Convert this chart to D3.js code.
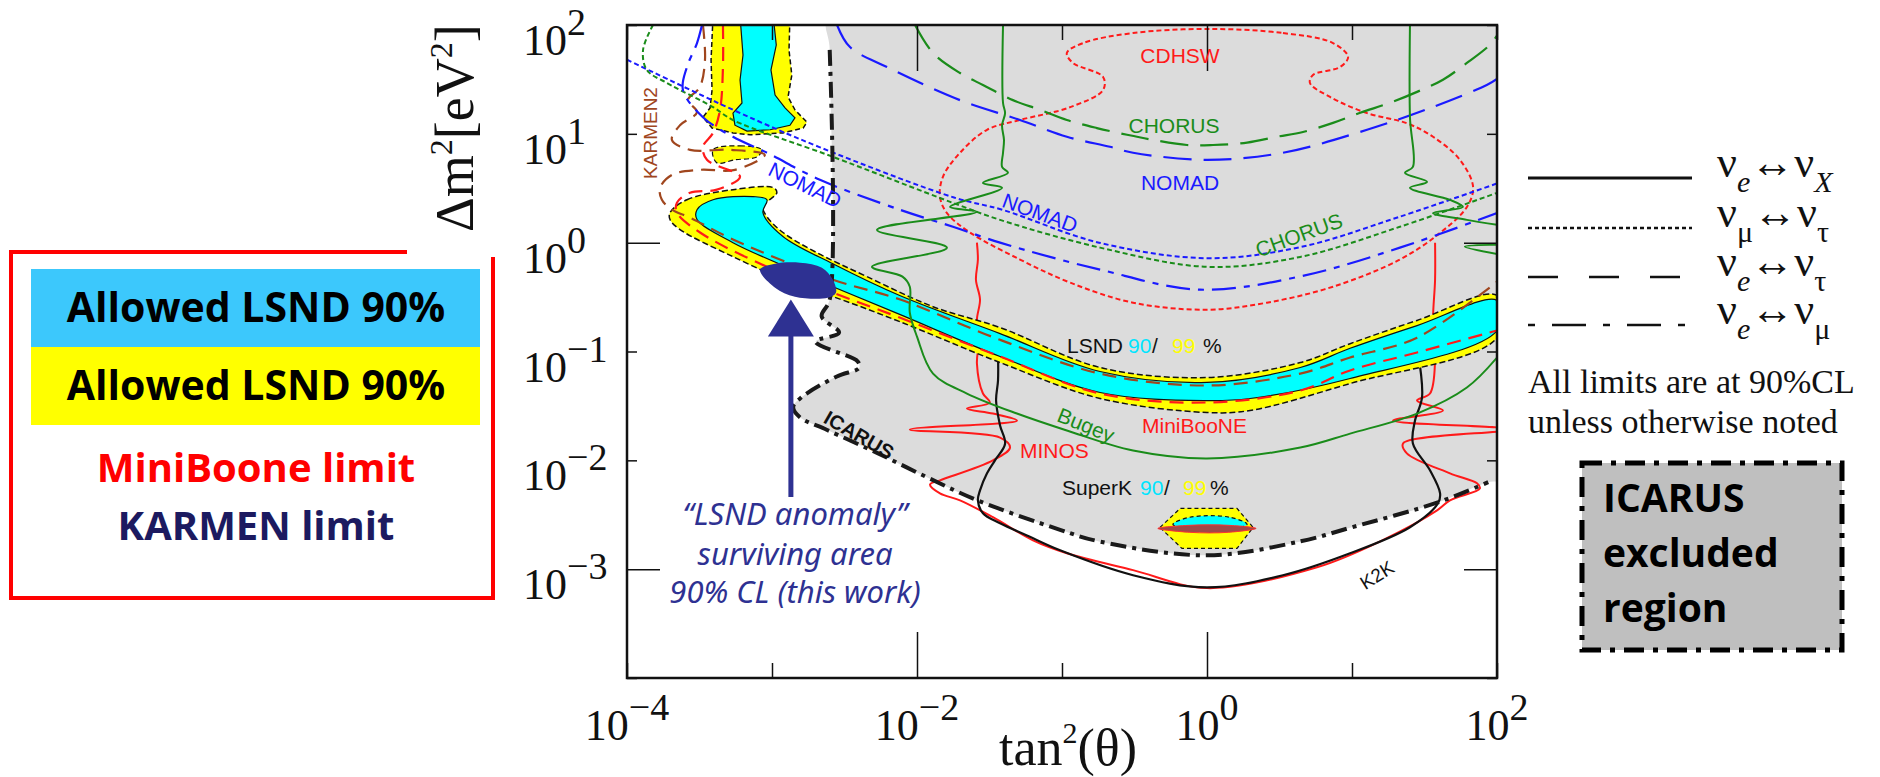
<!DOCTYPE html>
<html>
<head>
<meta charset="utf-8">
<script src="https://cdn.jsdelivr.net/npm/d3@7"></script>
<style>
body { margin: 0; background: #fff; }
</style>
</head>
<body>
<div id="chart-area"></div>
<script>
/*
*    exclusion plot : tan^2(theta) vs delta m^2
*/

// axis decades
var decades = [1e-4, 1e-3, 1e-2, 1e-1, 1, 10, 100];
var xLabelTicks = [1e-4, 1e-2, 1, 100];
var xLabelExps = ["\u22124", "\u22122", "0", "2"];
var yLabelTicks = [100, 10, 1, 0.1, 0.01, 0.001];
var yLabelExps = ["2", "1", "0", "\u22121", "\u22122", "\u22123"];

// ICARUS excluded region boundary [tan2, dm2]
var icarusBoundary = [
    [2.5e-3, 59], [2.5e-3, 0.30], [2.2e-3, 0.21], [2.9e-3, 0.149], [2.0e-3, 0.123],
    [3.9e-3, 0.081], [4.0e-3, 0.071], [2.8e-3, 0.059], [1.6e-3, 0.038], [1.4e-3, 0.031],
    [1.55e-3, 0.025], [2.4e-3, 0.019], [5.3e-3, 0.0117], [1.17e-2, 0.0070], [2.6e-2, 0.0043],
    [9.7e-2, 0.0023], [0.18, 0.0018], [1, 0.00134], [4.4, 0.0018], [9.7, 0.0024],
    [39, 0.0041], [87, 0.0063]
];

// LSND allowed band
var lsnd99Upper = [[1.98e-4, 1.89], [2.59e-4, 2.48], [5.38e-4, 3.07], [1.02e-3, 3.2], [1.08e-3, 2.88],
    [8.66e-4, 2.14], [9.23e-4, 1.73], [1.19e-3, 1.24], [2.04e-3, 0.809], [4.52e-3, 0.487],
    [1.29e-2, 0.258], [3.74e-2, 0.166], [0.183, 0.0713], [1, 0.0577], [4.4, 0.0792],
    [9.7, 0.118], [28.1, 0.193], [100, 0.327]];
var lsnd99Lower = [[1.98e-4, 1.63], [2.32e-4, 1.32], [5.38e-4, 0.744], [1.56e-3, 0.394], [2.63e-3, 0.319],
    [7.61e-3, 0.188], [3.74e-2, 0.0792], [0.183, 0.037], [1, 0.0275], [1.98, 0.0287],
    [9.7, 0.0508], [100, 0.134]];
var lsnd90Upper = [[3.04e-4, 2.01], [3.92e-4, 2.48], [7.4e-4, 2.65], [9.23e-4, 2.48], [8.66e-4, 1.89],
    [1.19e-3, 1.14], [2.63e-3, 0.64], [7.67e-3, 0.325], [3.74e-2, 0.146], [0.183, 0.0655],
    [1, 0.052], [4.4, 0.0713], [9.7, 0.107], [28.1, 0.173], [100, 0.294]];
var lsnd90Lower = [[3.04e-4, 1.63], [5.38e-4, 1.0], [1.56e-3, 0.53], [2.63e-3, 0.394], [7.67e-3, 0.218],
    [3.74e-2, 0.09], [0.183, 0.042], [1, 0.0354], [1.98, 0.037], [9.7, 0.0565], [100, 0.156]];

// LSND high dm2 islands
var lsndIsland99 = [[3.92e-4, 120], [1.33e-3, 120], [1.31e-3, 58.9], [1.37e-3, 34.7], [1.29e-3, 21.8],
    [1.44e-3, 16.6], [1.74e-3, 12.8], [1.64e-3, 11.3], [1.19e-3, 10.2], [7.06e-4, 9.8],
    [5.38e-4, 10.2], [3.86e-4, 11.3], [3.34e-4, 14.2], [3.74e-4, 17.3], [3.86e-4, 25.3], [3.80e-4, 47.7]];
var lsndIsland90 = [[6.02e-4, 120], [1.02e-3, 120], [1.07e-3, 65.5], [9.84e-4, 38.6], [1.05e-3, 22.7],
    [1.23e-3, 17.3], [1.44e-3, 14.0], [1.33e-3, 12.0], [9.70e-4, 10.9], [6.72e-4, 10.6],
    [5.55e-4, 12.0], [5.38e-4, 15.5], [6.21e-4, 19.2], [6.02e-4, 31.2], [6.31e-4, 53]];
var lsndIslandSmall = [[3.92e-4, 7.13], [6.02e-4, 7.76], [8.53e-4, 7.13], [7.88e-4, 6.15],
    [5.55e-4, 5.77], [4.17e-4, 5.41]];

// KARMEN2 and MiniBooNE limits
var karmen2 = [[3.34e-4, 100], [3.45e-4, 47.7], [3.18e-4, 26.9], [2.63e-4, 20.4], [3.04e-4, 15.8],
    [2.32e-4, 12.0], [2.04e-4, 8.8], [2.72e-4, 7.13], [5.14e-4, 7.13], [8.92e-4, 6.41],
    [5.55e-4, 4.67], [3.19e-4, 4.67], [2.04e-4, 4.2], [1.69e-4, 3.19], [1.74e-4, 2.48],
    [2.04e-4, 2.01], [2.72e-4, 1.7], [5.38e-4, 1.07], [2.63e-3, 0.457], [7.67e-3, 0.30],
    [3.74e-2, 0.128], [0.183, 0.0627], [1, 0.0487], [4.4, 0.0627], [9.7, 0.088],
    [28.1, 0.134], [100, 0.438]];
var miniBooNE = [[4.59e-4, 100], [4.59e-4, 41.1], [4.38e-4, 16.6], [3.92e-4, 10.2], [3.34e-4, 7.6],
    [3.56e-4, 5.77], [6.02e-4, 4.03], [4.17e-4, 3.07], [2.72e-4, 2.88], [2.21e-4, 2.33],
    [2.21e-4, 1.89], [3.19e-4, 1.24], [9.23e-4, 0.60], [2.63e-3, 0.347], [7.67e-3, 0.204],
    [3.74e-2, 0.09], [0.183, 0.0411], [1, 0.034], [4.4, 0.0438], [9.7, 0.067],
    [28.1, 0.098], [100, 0.156]];

// numu <-> nutau (dotted)
var nomadMuTau = [[1e-4, 48], [5.4e-4, 16.6], [2.1e-3, 7.6], [1.8e-2, 2.6], [3.9e-2, 2.0],
    [0.18, 1.0], [1, 0.72], [4.4, 0.91], [21, 1.72], [100, 3.5]];
var chorusMuTau = [[1.51e-4, 100], [1.29e-4, 58.9], [1.37e-4, 38.6], [1.89e-4, 29.3], [2.32e-4, 25.3],
    [3.92e-4, 17.6], [5.38e-4, 13.4], [2.63e-3, 6.15], [1.77e-2, 2.32], [3.74e-2, 1.62],
    [0.183, 0.90], [1, 0.60], [4.4, 0.74], [21.4, 1.40], [100, 2.87]];

// nue <-> nutau (dashed)
var nomadETau = [[2.81e-3, 100], [3.45e-3, 62.7], [6.21e-3, 41.1], [1.98e-2, 20.4], [5.13e-2, 13.4],
    [0.108, 9.4], [0.214, 7.6], [0.309, 6.7], [1, 5.77], [3.34, 6.7], [12.7, 10.9],
    [36, 17.6], [85, 28.1], [100, 32]];
var chorusETau = [[9.7e-3, 100], [1.29e-2, 55.3], [1.98e-2, 36.2], [2.85e-2, 28.1], [4.59e-2, 20.4],
    [7.06e-2, 16.6], [0.108, 13.4], [0.174, 11.3], [0.281, 9.8], [0.424, 8.8], [0.728, 7.9],
    [1.1, 7.9], [1.89, 8.3], [3.04, 9.4], [4.59, 10.4], [7.4, 12.6], [11.4, 15.6],
    [18.3, 19.3], [28.1, 24.3], [42.4, 31.4], [62, 44.8], [89, 65.5], [100, 80]];

// nue <-> numu (dash-dot)
var nomadEMu = [[3.29e-4, 100], [3.04e-4, 68.3], [2.59e-4, 41.1], [2.43e-4, 25.3], [3.34e-4, 14.2],
    [5.38e-4, 9.4], [9.23e-4, 6.7], [2.14e-3, 3.78], [7.67e-3, 2.0], [1.77e-2, 1.40],
    [3.74e-2, 1.0], [0.183, 0.565], [0.89, 0.37], [4.4, 0.49], [21.4, 0.90], [100, 1.87]];

// CDHSW (closed contour)
var cdhsw = [[1, 92], [3.34, 84.4], [7.4, 68.3], [9.4, 50.8], [8.27, 41.1], [5.38, 34.7], [5.13, 29.3],
    [7.06, 21.8], [12.7, 15.5], [23.9, 12.5], [36.2, 9.4], [55.5, 5.77], [68.4, 3.25], [62, 2.13],
    [40.5, 1.23], [21.4, 0.70], [7.4, 0.394], [2.59, 0.281], [1, 0.242], [0.309, 0.281],
    [0.114, 0.429], [5.13e-2, 0.70], [2.32e-2, 1.24], [1.61e-2, 1.87], [1.44e-2, 2.64],
    [1.51e-2, 4.03], [1.98e-2, 6.7], [3.04e-2, 10.9], [5.13e-2, 13.4], [0.114, 17.6],
    [0.192, 25.3], [0.192, 33.3], [0.119, 44.8], [0.108, 55.3], [0.140, 68.3], [0.309, 84.4]];

// Bugey (nue disappearance)
var bugey = [[3.92e-2, 100], [3.92e-2, 19.2], [4.05e-2, 15.5], [3.86e-2, 12.0], [3.98e-2, 8.8],
    [3.92e-2, 6.7], [3.86e-2, 4.97], [4.24e-2, 4.38], [2.85e-2, 3.54], [3.86e-2, 3.19],
    [1.69e-2, 2.13], [2.59e-2, 1.92], [5.3e-3, 1.31], [1.61e-2, 0.90], [4.89e-3, 0.60],
    [7.94e-3, 0.487], [8.92e-3, 0.394], [8.92e-3, 0.227], [1e-2, 0.137], [1.29e-2, 0.0627],
    [2.21e-2, 0.0411], [4.89e-2, 0.0269], [0.108, 0.0188], [0.309, 0.0123], [1, 0.0104],
    [4.4, 0.0131], [9.7, 0.0176], [28.1, 0.0269], [62, 0.0467], [100, 0.088]];
var bugeyRight = [[25.1, 100], [25.1, 14.2], [26.3, 4.97], [23.2, 4.38], [32.9, 3.62], [25.1, 3.19],
    [47.4, 2.47], [58.2, 2.13], [36.2, 1.87], [62, 1.62], [100, 1.46]];
var bugeyRightTip = [[130, 0.96], [60, 0.92], [130, 0.74]];

// MINOS
var minos = [[2.59e-2, 1.0], [2.63e-2, 0.70], [2.55e-2, 0.457], [2.72e-2, 0.30], [2.59e-2, 0.196],
    [2.68e-2, 0.128], [2.59e-2, 0.0776], [2.85e-2, 0.0411], [3.18e-2, 0.034], [2.21e-2, 0.0299],
    [3.34e-2, 0.0269], [4.89e-2, 0.0232], [8.92e-3, 0.0192], [3.74e-2, 0.0162], [4.38e-2, 0.0131],
    [3.34e-2, 0.0100], [1.44e-2, 0.00655], [1.23e-2, 0.0060], [1.44e-2, 0.00497], [1.98e-2, 0.00429],
    [3.34e-2, 0.0030], [6.31e-2, 0.00184], [0.108, 0.0014], [0.309, 0.00098], [1, 0.00067],
    [5.73, 0.00104], [16.3, 0.00185], [38.6, 0.00347], [47.4, 0.00429], [76.2, 0.00553],
    [72.8, 0.00615], [47.4, 0.0076], [23.9, 0.0116], [22.5, 0.0143], [123, 0.0192],
    [19.2, 0.0232], [42.4, 0.0287], [28.1, 0.0354], [34.5, 0.0411], [37.4, 0.0826],
    [36.2, 0.196], [37.4, 0.457], [37.4, 1.0]];

// K2K
var k2k = [[3.62e-2, 0.098], [3.62e-2, 0.0541], [3.51e-2, 0.0354], [3.74e-2, 0.0209], [4.05e-2, 0.0142],
    [3.45e-2, 0.0100], [3.04e-2, 0.0076], [2.72e-2, 0.0053], [2.63e-2, 0.00429], [2.85e-2, 0.00326],
    [3.74e-2, 0.00264], [5.73e-2, 0.00204], [9.7e-2, 0.00149], [0.309, 0.00088], [1, 0.00068],
    [3.34, 0.00088], [9.7, 0.0014], [25.1, 0.00243], [39.2, 0.00403], [40.5, 0.00497],
    [34.5, 0.0081], [26.3, 0.0143], [27.2, 0.0232], [30.4, 0.0378], [28.5, 0.098]];

// SuperK
var superK99 = [[0.474, 0.00242], [0.654, 0.00362], [1.61, 0.00362], [2.08, 0.00242], [1.61, 0.00155], [0.672, 0.00155]];
var superK90 = [[0.582, 0.00258], [0.762, 0.0030], [1.44, 0.0030], [1.89, 0.00258], [1.44, 0.00232], [0.762, 0.00232]];
var superKBest = [[0.458, 0.00237], [0.762, 0.00253], [1.40, 0.00253], [2.18, 0.00237], [1.40, 0.00218], [0.762, 0.00218]];

// surviving area (this work) and its arrow
var survivingArea = [[8.27e-4, 0.565], [1.05e-3, 0.641], [1.56e-3, 0.655], [2.21e-3, 0.589], [2.63e-3, 0.457],
    [2.76e-3, 0.347], [2.43e-3, 0.312], [1.44e-3, 0.319], [1.05e-3, 0.386]];
var arrowX = 1.35e-3;
var arrowTail = 0.0046;
var arrowTip = 0.30;

// legend entries
var legendFrom = ["e", "\u03bc", "e", "e"];
var legendTo = ["X", "\u03c4", "\u03c4", "\u03bc"];

var width = 1880;
var height = 777;
var plot = { left: 627, right: 1497, top: 25, bottom: 678 };

var svg = d3.select("#chart-area").append("svg")
    .attr("width", width)
    .attr("height", height)
    .style("background", "#fff");

var x = d3.scaleLog().domain([1e-4, 1e2]).range([plot.left, plot.right]);
var y = d3.scaleLog().domain([1e-4, 1e2]).range([plot.bottom, plot.top]);

svg.append("defs").append("clipPath").attr("id", "plot-clip")
    .append("rect")
    .attr("x", plot.left).attr("y", plot.top)
    .attr("width", plot.right - plot.left).attr("height", plot.bottom - plot.top);

var g = svg.append("g").attr("clip-path", "url(#plot-clip)");

var smooth = d3.line().x((d) => x(d[0])).y((d) => y(d[1])).curve(d3.curveCatmullRom.alpha(0.5));
var smoothClosed = d3.line().x((d) => x(d[0])).y((d) => y(d[1])).curve(d3.curveCatmullRomClosed.alpha(0.5));
var straightClosed = d3.line().x((d) => x(d[0])).y((d) => y(d[1])).curve(d3.curveLinearClosed);

function curve(data, color, dash, w) {
    g.append("path")
        .attr("d", smooth(data))
        .attr("fill", "none")
        .attr("stroke", color)
        .attr("stroke-width", w || 2)
        .attr("stroke-dasharray", dash || null)
        .attr("stroke-linejoin", "round");
}

function band(upper, lower) {
    return upper.concat(lower.slice().reverse());
}

// ICARUS excluded (grey)
var greyPoly = [[2.5e-3, 120]].concat(icarusBoundary, [[120, 0.0068], [120, 120]]);
g.append("path").attr("d", smoothClosed(greyPoly)).attr("fill", "#dcdcdc");

// limits underneath the LSND band
curve(minos, "#ff1a1a", null, 2);
curve(k2k, "#111", null, 2.2);
g.append("path").attr("d", smoothClosed(cdhsw)).attr("fill", "none")
    .attr("stroke", "#ff1a1a").attr("stroke-width", 2).attr("stroke-dasharray", "5,3");

// LSND band
g.append("path").attr("d", smoothClosed(band(lsnd99Upper, lsnd99Lower)))
    .attr("fill", "#ffff00").attr("stroke", "#111").attr("stroke-width", 1.5).attr("stroke-dasharray", "6,3");
g.append("path").attr("d", smoothClosed(band(lsnd90Upper, lsnd90Lower)))
    .attr("fill", "#00ffff").attr("stroke", "#111").attr("stroke-width", 1.2);

// islands
g.append("path").attr("d", straightClosed(lsndIsland99))
    .attr("fill", "#ffff00").attr("stroke", "#111").attr("stroke-width", 1.5).attr("stroke-dasharray", "5,3");
g.append("path").attr("d", straightClosed(lsndIsland90))
    .attr("fill", "#00ffff").attr("stroke", "#111").attr("stroke-width", 1.2);
g.append("path").attr("d", smoothClosed(lsndIslandSmall))
    .attr("fill", "#ffff00").attr("stroke", "#111").attr("stroke-width", 1.2).attr("stroke-dasharray", "5,3");

curve(karmen2, "#a0461e", "14,8", 2.2);
curve(miniBooNE, "#ff1a1a", "14,8", 2.2);

// SuperK
g.append("path").attr("d", straightClosed(superK99))
    .attr("fill", "#ffff00").attr("stroke", "#111").attr("stroke-width", 1.2).attr("stroke-dasharray", "4,3");
g.append("path").attr("d", smoothClosed(superK90))
    .attr("fill", "#00ffff").attr("stroke", "#111").attr("stroke-width", 1.2).attr("stroke-dasharray", "4,3");
g.append("path").attr("d", smoothClosed(superKBest))
    .attr("fill", "#a04848").attr("stroke", "#ff3030").attr("stroke-width", 1);

// nu_mu <-> nu_tau
curve(nomadMuTau, "#1a1aff", "5,3", 2);
curve(chorusMuTau, "#1a8c1a", "5,3", 2);
// nu_e <-> nu_tau
curve(nomadETau, "#1a1aff", "28,12", 2.2);
curve(chorusETau, "#1a8c1a", "28,12", 2.2);
// nu_e <-> nu_mu
curve(nomadEMu, "#1a1aff", "24,8,6,8", 2.2);

// Bugey
curve(bugey, "#1a8c1a", null, 2);
curve(bugeyRight, "#1a8c1a", null, 2);
curve(bugeyRightTip, "#1a8c1a", null, 2);

// ICARUS limit
curve(icarusBoundary, "#1a1a1a", "16,6,4,6", 4);

// surviving area
g.append("path").attr("d", smoothClosed(survivingArea)).attr("fill", "#2e3192");

// arrow
var ax = x(arrowX);
var tipY = y(arrowTip);
svg.append("line")
    .attr("x1", ax).attr("x2", ax)
    .attr("y1", y(arrowTail)).attr("y2", tipY + 30)
    .attr("stroke", "#2e3192").attr("stroke-width", 5);
svg.append("path")
    .attr("d", "M" + ax + "," + tipY + " L" + (ax - 23) + "," + (tipY + 37) + " L" + (ax + 23) + "," + (tipY + 37) + " Z")
    .attr("fill", "#2e3192");

// frame
svg.append("rect")
    .attr("x", plot.left).attr("y", plot.top)
    .attr("width", plot.right - plot.left).attr("height", plot.bottom - plot.top)
    .attr("fill", "none").attr("stroke", "#111").attr("stroke-width", 2.5);

// ticks
function xLen(d) { return (d === 1e-2 || d === 1) ? 46 : 15; }
function yLen(d) { return (d === 1 || d === 1e-3) ? 33 : 10; }

var bottomAxis = svg.append("g").attr("transform", "translate(0," + plot.bottom + ")")
    .call(d3.axisBottom(x).tickValues(decades).tickFormat(() => ""));
bottomAxis.selectAll(".tick line").attr("y2", (d) => -xLen(d));
var topAxis = svg.append("g").attr("transform", "translate(0," + plot.top + ")")
    .call(d3.axisTop(x).tickValues(decades).tickFormat(() => ""));
topAxis.selectAll(".tick line").attr("y2", (d) => xLen(d));
var leftAxis = svg.append("g").attr("transform", "translate(" + plot.left + ",0)")
    .call(d3.axisLeft(y).tickValues(decades).tickFormat(() => ""));
leftAxis.selectAll(".tick line").attr("x2", (d) => yLen(d));
var rightAxis = svg.append("g").attr("transform", "translate(" + plot.right + ",0)")
    .call(d3.axisRight(y).tickValues(decades).tickFormat(() => ""));
rightAxis.selectAll(".tick line").attr("x2", (d) => -yLen(d));
svg.selectAll(".domain").remove();
svg.selectAll(".tick line").attr("stroke", "#111").attr("stroke-width", 1.5);

var serif = "'Liberation Serif', 'DejaVu Serif', serif";

// tick labels
xLabelTicks.forEach((v, i) => {
    var t = svg.append("text")
        .attr("x", x(v)).attr("y", 740)
        .attr("text-anchor", "middle")
        .attr("font-family", serif).attr("fill", "#111");
    t.append("tspan").attr("font-size", 44).text("10");
    t.append("tspan").attr("font-size", 38).attr("dy", -20).text(xLabelExps[i]);
});
yLabelTicks.forEach((v, i) => {
    var t = svg.append("text")
        .attr("x", 523).attr("y", y(v) + 30)
        .attr("font-family", serif).attr("fill", "#111");
    t.append("tspan").attr("font-size", 44).text("10");
    t.append("tspan").attr("font-size", 38).attr("dy", -20).text(yLabelExps[i]);
});

// axis titles
var xt = svg.append("text").attr("x", 999).attr("y", 765)
    .attr("font-family", serif).attr("font-size", 52).attr("fill", "#111");
xt.append("tspan").text("tan");
xt.append("tspan").attr("font-size", 30).attr("dy", -22).text("2");
xt.append("tspan").attr("dy", 22).text("(\u03b8)");

var yt = svg.append("text").attr("transform", "translate(473,232) rotate(-90)")
    .attr("font-family", serif).attr("font-size", 54).attr("fill", "#111");
yt.append("tspan").text("\u0394m");
yt.append("tspan").attr("font-size", 32).attr("dy", -21).text("2");
yt.append("tspan").attr("dy", 21).text("[eV");
yt.append("tspan").attr("font-size", 32).attr("dy", -21).text("2");
yt.append("tspan").attr("dy", 21).text("]");

// in-plot labels
var sans = "'Liberation Sans', Arial, sans-serif";
function label(txt, px, py, color, size, rot, anchor, weight) {
    svg.append("text")
        .attr("transform", "translate(" + px + "," + py + ") rotate(" + (rot || 0) + ")")
        .attr("text-anchor", anchor || "middle")
        .attr("dy", rot ? "0.35em" : null)
        .attr("font-family", sans).attr("font-size", size)
        .attr("font-weight", weight || "normal")
        .attr("fill", color).text(txt);
}
label("CDHSW", 1180, 63, "#ff1a1a", 21);
label("CHORUS", 1174, 133, "#1a8c1a", 21);
label("NOMAD", 1180, 190, "#1a1aff", 21);
label("NOMAD", 1040, 213, "#1a1aff", 21, 20);
label("CHORUS", 1299, 235, "#1a8c1a", 21, -20);
label("NOMAD", 805, 185, "#1a1aff", 21, 26);
label("KARMEN2", 650, 133, "#a0461e", 19, -90);
label("MiniBooNE", 1142, 433, "#ff1a1a", 21, 0, "start");
label("MINOS", 1020, 458, "#ff1a1a", 21, 0, "start");
label("Bugey", 1086, 425, "#1a8c1a", 21, 22);
label("K2K", 1377, 575, "#111", 19, -32);
label("ICARUS", 859, 435, "#111", 20, 30, "middle", "bold");

function pctLabel(px, py, parts) {
    var t = svg.append("text").attr("y", py).attr("font-family", sans).attr("font-size", 21);
    parts.forEach((p) => {
        t.append("tspan").attr("x", p[1]).attr("fill", p[2]).text(p[0]);
    });
}
pctLabel(1067, 353, [["LSND", 1067, "#111"], ["90", 1128, "#00e5ff"], ["/", 1152, "#111"], ["99", 1172, "#ffff00"], ["%", 1203, "#111"]]);
pctLabel(1062, 495, [["SuperK", 1062, "#111"], ["90", 1140, "#00e5ff"], ["/", 1164, "#111"], ["99", 1183, "#ffff00"], ["%", 1210, "#111"]]);

// annotation for surviving area
var ann = ["\u201cLSND anomaly\u201d", "surviving area", "90% CL (this work)"];
var annY = [525, 565, 603];
ann.forEach((s, i) => {
    svg.append("text").attr("x", 795).attr("y", annY[i])
        .attr("text-anchor", "middle")
        .attr("font-family", "'Noto Sans', 'Open Sans', sans-serif")
        .attr("font-style", "italic").attr("font-size", 31)
        .attr("fill", "#2e3192").text(s);
});

// left legend box
var legendFont = "'Open Sans', 'Lato', sans-serif";
svg.append("path")
    .attr("d", "M407,252 H11 V598 H493 V257")
    .attr("fill", "none").attr("stroke", "#ff0000").attr("stroke-width", 4);
svg.append("rect").attr("x", 31).attr("y", 269).attr("width", 449).attr("height", 78).attr("fill", "#3cc8fc");
svg.append("rect").attr("x", 31).attr("y", 347).attr("width", 449).attr("height", 78).attr("fill", "#ffff00");
var leftTexts = [["Allowed LSND 90%", 322, "#000", 41], ["Allowed LSND 90%", 400, "#000", 41],
    ["MiniBoone limit", 482, "#ff0000", 40], ["KARMEN limit", 540, "#1c1a60", 40]];
leftTexts.forEach((t) => {
    svg.append("text").attr("x", 256).attr("y", t[1])
        .attr("text-anchor", "middle")
        .attr("font-family", legendFont).attr("font-weight", "bold").attr("font-size", t[3])
        .attr("fill", t[2]).text(t[0]);
});

// right legend: line styles
var legendDash = [null, "4,3", "30,31", "7,17,34,17"];
var legendY = [178, 228, 277, 325];
legendDash.forEach((dash, i) => {
    svg.append("line")
        .attr("x1", 1528).attr("x2", i === 2 ? 1680 : 1692)
        .attr("y1", legendY[i]).attr("y2", legendY[i])
        .attr("stroke", "#111").attr("stroke-width", i === 0 ? 3 : 2.5)
        .attr("stroke-dasharray", dash);
    var t = svg.append("text").attr("x", 1717).attr("y", legendY[i] - 1)
        .attr("font-family", serif).attr("fill", "#111");
    t.append("tspan").attr("font-size", 44).text("\u03bd");
    t.append("tspan").attr("font-size", 30).attr("dy", 15)
        .attr("font-style", legendFrom[i] === "e" ? "italic" : "normal").text(legendFrom[i]);
    t.append("tspan").attr("font-size", 44).attr("dy", -15).text("\u2194");
    t.append("tspan").attr("font-size", 44).text("\u03bd");
    t.append("tspan").attr("font-size", 30).attr("dy", 15)
        .attr("font-style", legendTo[i] === "X" ? "italic" : "normal").text(legendTo[i]);
});
svg.append("text").attr("x", 1528).attr("y", 393)
    .attr("font-family", serif).attr("font-size", 34).attr("fill", "#111")
    .text("All limits are at 90%CL");
svg.append("text").attr("x", 1528).attr("y", 433)
    .attr("font-family", serif).attr("font-size", 34).attr("fill", "#111")
    .text("unless otherwise noted");

// ICARUS legend box
svg.append("rect").attr("x", 1582).attr("y", 463).attr("width", 260).attr("height", 187)
    .attr("fill", "#bfbfbf").attr("stroke", "#000").attr("stroke-width", 5)
    .attr("stroke-dasharray", "20,9,5,9");
[["ICARUS", 512], ["excluded", 567], ["region", 622]].forEach((t) => {
    svg.append("text").attr("x", 1603).attr("y", t[1])
        .attr("font-family", legendFont).attr("font-weight", "bold").attr("font-size", 39)
        .attr("fill", "#000").text(t[0]);
});
</script>
</body>
</html>
